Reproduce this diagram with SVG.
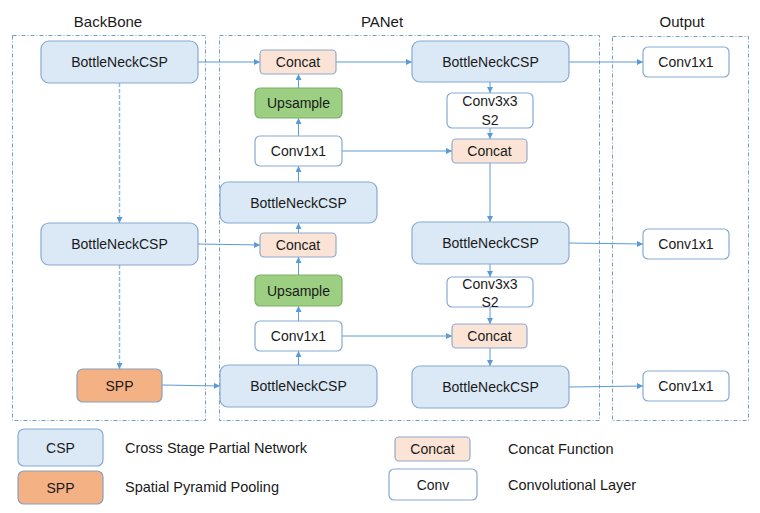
<svg xmlns="http://www.w3.org/2000/svg" width="760" height="513" viewBox="0 0 760 513">
<defs>
<marker id="ah" viewBox="0 0 10 10" refX="10" refY="5" markerWidth="6" markerHeight="6" markerUnits="userSpaceOnUse" orient="auto">
<path d="M0,0 L10,5 L0,10 z" fill="#5b9bd5"/>
</marker>
<style>
text{font-family:"Liberation Sans",Arial,sans-serif;fill:#1a1a1a;}
.t{font-size:14px;text-anchor:middle;dominant-baseline:central;}
.h{font-size:15px;text-anchor:middle;}
.l{font-size:14.5px;dominant-baseline:central;}
.frame{fill:none;stroke:#6f9cc9;stroke-width:1;stroke-dasharray:4 2 1 2;}
.csp{fill:#dbe8f5;stroke:#86a9d2;stroke-width:1.2;}
.cat{fill:#fbe4d5;stroke:#8faad0;stroke-width:1.2;}
.up{fill:#9ccf82;stroke:#7fae6a;stroke-width:1.2;}
.spp{fill:#f4b183;stroke:#8a9fbc;stroke-width:1.2;}
.cv{fill:#ffffff;stroke:#86a9d2;stroke-width:1.2;}
.c{fill:none;stroke:#5b9bd5;stroke-width:1;marker-end:url(#ah);}
.d{stroke:#8fbbe3;stroke-width:1.5;stroke-dasharray:4 2;}
</style>
</defs>
<rect width="760" height="513" fill="#ffffff"/>
<g id="frames">
<rect class="frame" x="12.5" y="35.5" width="193" height="385"/>
<rect class="frame" x="219.5" y="35.5" width="380" height="385"/>
<rect class="frame" x="612.5" y="36.5" width="136" height="384"/>
<text class="h" x="108" y="27">BackBone</text>
<text class="h" x="382" y="27">PANet</text>
<text class="h" x="682" y="27">Output</text>
</g>
<g id="connectors">
<line class="c" x1="198" y1="62" x2="260" y2="62"/>
<line class="c d" x1="119.5" y1="83" x2="119.5" y2="223"/>
<line class="c d" x1="119.5" y1="265" x2="119.5" y2="369"/>
<line class="c" x1="198" y1="244" x2="260" y2="245"/>
<line class="c" x1="162" y1="385" x2="220" y2="386"/>
<line class="c" x1="298.5" y1="365" x2="298.5" y2="351"/>
<line class="c" x1="298.5" y1="321" x2="298.5" y2="306"/>
<line class="c" x1="298.5" y1="275" x2="298.5" y2="257"/>
<line class="c" x1="298.5" y1="233" x2="298.5" y2="223"/>
<line class="c" x1="298.5" y1="182" x2="298.5" y2="166"/>
<line class="c" x1="298.5" y1="136" x2="298.5" y2="118"/>
<line class="c" x1="298.5" y1="88" x2="298.5" y2="74"/>
<line class="c" x1="336" y1="62" x2="412" y2="62"/>
<line class="c" x1="490" y1="82" x2="490" y2="93"/>
<line class="c" x1="490" y1="128" x2="490" y2="139"/>
<line class="c" x1="342" y1="151" x2="452" y2="151"/>
<line class="c" x1="490" y1="163" x2="490" y2="222"/>
<line class="c" x1="569" y1="62" x2="643" y2="62"/>
<line class="c" x1="569" y1="243" x2="643" y2="244"/>
<line class="c" x1="490" y1="264" x2="490" y2="277"/>
<line class="c" x1="490" y1="307" x2="490" y2="324"/>
<line class="c" x1="342" y1="336" x2="452" y2="336"/>
<line class="c" x1="490" y1="348" x2="490" y2="366"/>
<line class="c" x1="569" y1="387" x2="643" y2="386"/>
</g>
<g id="bb_csp1"><rect class="csp" x="41" y="41" width="157" height="42" rx="8"/><text class="t" x="119.5" y="62">BottleNeckCSP</text></g>
<g id="bb_csp2"><rect class="csp" x="41" y="223" width="157" height="42" rx="8"/><text class="t" x="119.5" y="244">BottleNeckCSP</text></g>
<g id="bb_spp"><rect class="spp" x="77" y="369" width="85" height="33" rx="6"/><text class="t" x="119.5" y="385.5">SPP</text></g>
<g id="pa_concat1"><rect class="cat" x="260" y="50" width="76" height="24" rx="4"/><text class="t" x="298" y="62">Concat</text></g>
<g id="pa_up1"><rect class="up" x="255" y="88" width="87" height="30" rx="5"/><text class="t" x="298.5" y="103">Upsample</text></g>
<g id="pa_conv1"><rect class="cv" x="255" y="136" width="87" height="30" rx="5"/><text class="t" x="298.5" y="151">Conv1x1</text></g>
<g id="pa_csp_mid"><rect class="csp" x="220" y="182" width="157" height="41" rx="8"/><text class="t" x="298.5" y="202.5">BottleNeckCSP</text></g>
<g id="pa_concat2"><rect class="cat" x="260" y="233" width="76" height="24" rx="4"/><text class="t" x="298" y="245">Concat</text></g>
<g id="pa_up2"><rect class="up" x="255" y="275" width="87" height="31" rx="5"/><text class="t" x="298.5" y="290.5">Upsample</text></g>
<g id="pa_conv2"><rect class="cv" x="255" y="321" width="87" height="30" rx="5"/><text class="t" x="298.5" y="336">Conv1x1</text></g>
<g id="pa_csp_bot"><rect class="csp" x="220" y="365" width="157" height="42" rx="8"/><text class="t" x="298.5" y="386">BottleNeckCSP</text></g>
<g id="pa_csp_r1"><rect class="csp" x="412" y="41" width="157" height="41" rx="8"/><text class="t" x="490.5" y="61.5">BottleNeckCSP</text></g>
<g id="pa_conv3_1"><rect class="cv" x="447" y="93" width="86" height="35" rx="5"/><text class="t" x="490" y="101">Conv3x3</text><text class="t" x="490" y="120">S2</text></g>
<g id="pa_concat_r1"><rect class="cat" x="452" y="139" width="75" height="24" rx="4"/><text class="t" x="489.5" y="151">Concat</text></g>
<g id="pa_csp_r2"><rect class="csp" x="412" y="222" width="157" height="42" rx="8"/><text class="t" x="490.5" y="243">BottleNeckCSP</text></g>
<g id="pa_conv3_2"><rect class="cv" x="447" y="277" width="86" height="30" rx="5"/><text class="t" x="490" y="284">Conv3x3</text><text class="t" x="490" y="302">S2</text></g>
<g id="pa_concat_r2"><rect class="cat" x="452" y="324" width="75" height="24" rx="4"/><text class="t" x="489.5" y="336">Concat</text></g>
<g id="pa_csp_r3"><rect class="csp" x="412" y="366" width="157" height="42" rx="8"/><text class="t" x="490.5" y="387">BottleNeckCSP</text></g>
<g id="out1"><rect class="cv" x="643" y="47" width="86" height="30" rx="5"/><text class="t" x="686" y="62">Conv1x1</text></g>
<g id="out2"><rect class="cv" x="643" y="229" width="86" height="30" rx="5"/><text class="t" x="686" y="244">Conv1x1</text></g>
<g id="out3"><rect class="cv" x="643" y="371" width="86" height="30" rx="5"/><text class="t" x="686" y="386">Conv1x1</text></g>
<g id="legend">
<rect class="csp" x="18" y="429" width="85" height="37" rx="6"/><text class="t" x="60.5" y="447.5">CSP</text>
<rect class="spp" x="18" y="471" width="85" height="33" rx="6"/><text class="t" x="60.5" y="487.5">SPP</text>
<text class="l" x="125" y="448">Cross Stage Partial Network</text>
<text class="l" x="125" y="487">Spatial Pyramid Pooling</text>
<rect class="cat" x="395" y="437" width="75" height="24" rx="4"/><text class="t" x="432.5" y="449">Concat</text>
<rect class="cv" x="389" y="469" width="88" height="31" rx="5"/><text class="t" x="433" y="485">Conv</text>
<text class="l" x="508" y="449">Concat Function</text>
<text class="l" x="508" y="485">Convolutional Layer</text>
</g>
</svg>
